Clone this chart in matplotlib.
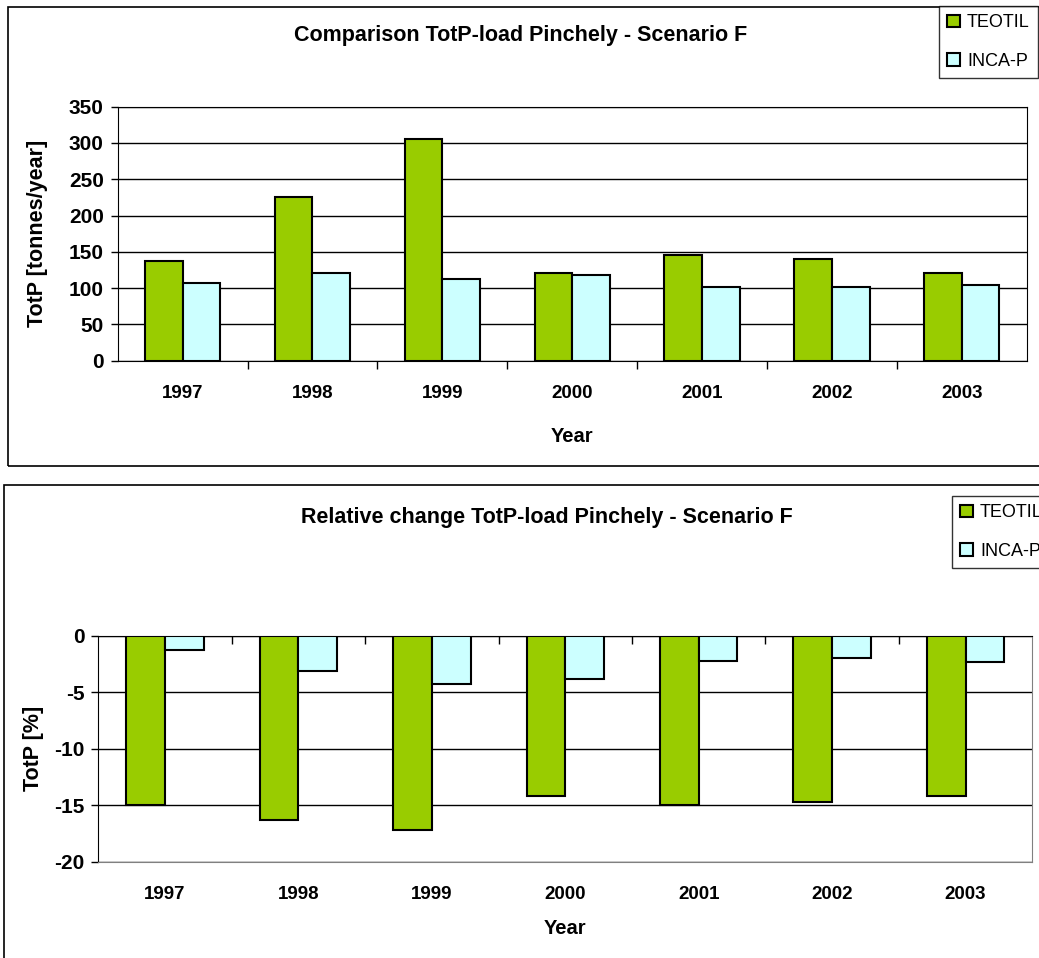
import numpy as np
import matplotlib
matplotlib.use('Agg')
import matplotlib.pyplot as plt
from matplotlib.patches import Rectangle
from matplotlib.ticker import MultipleLocator, FixedLocator

plt.rcParams['font.family'] = ['Liberation Sans', 'DejaVu Sans']
plt.rcParams['axes.unicode_minus'] = False

years = ['1997', '1998', '1999', '2000', '2001', '2002', '2003']
teotil_load = [137, 225, 305, 121, 146, 140, 121]
inca_load = [107, 121, 113, 118, 102, 102, 104]
teotil_change = [-15.0, -16.3, -17.2, -14.2, -15.0, -14.7, -14.2]
inca_change = [-1.3, -3.1, -4.3, -3.8, -2.2, -2.0, -2.3]

green = '#99CC00'
cyan = '#CCFFFF'
W, H = 1039, 958

fig = plt.figure(figsize=(W / 100, H / 100), dpi=100)

# outer chart frames
fig.patches.append(Rectangle((8 / W, 1 - 466 / H), 1.2, (466 - 7) / H,
                             transform=fig.transFigure, fill=False,
                             edgecolor='black', lw=1.2))
fig.patches.append(Rectangle((4 / W, -0.1), 1.2, 0.1 + (958 - 485) / H,
                             transform=fig.transFigure, fill=False,
                             edgecolor='black', lw=1.2))

x = np.arange(len(years))
bw = 0.29


def style_bars(ax, a, b):
    ax.bar(x - bw, a, bw, align='edge', color=green, edgecolor='black',
           lw=1.5, zorder=3, label='TEOTIL')
    ax.bar(x, b, bw, align='edge', color=cyan, edgecolor='black',
           lw=1.5, zorder=3, label='INCA-P')
    ax.set_xlim(-0.5, len(years) - 0.5)
    ax.set_xticks(x)
    ax.set_xticklabels(years, fontsize=13.5, fontweight='bold')
    ax.xaxis.set_minor_locator(FixedLocator(np.arange(0.5, len(years) - 1, 1)))
    ax.yaxis.grid(True, color='black', lw=1)
    ax.set_axisbelow(True)


# top chart
ax1 = fig.add_axes([117.7 / W, 1 - 360.7 / H, (1026.7 - 117.7) / W, (360.7 - 106.7) / H])
style_bars(ax1, teotil_load, inca_load)
ax1.set_ylim(0, 350)
ax1.yaxis.set_major_locator(MultipleLocator(50))
ax1.tick_params(axis='y', labelsize=15, length=5, width=1, pad=5)
for lab in ax1.get_yticklabels():
    lab.set_fontweight('bold')
ax1.tick_params(axis='x', which='major', length=0, pad=17.5)
ax1.tick_params(axis='x', which='minor', length=6, width=1, direction='out')
ax1.set_xlabel('Year', fontsize=14.5, fontweight='bold')
ax1.xaxis.set_label_coords(0.5, (360.7 - 437) / 254, transform=ax1.transAxes)
ax1.xaxis.label.set_va('center')
ax1.set_ylabel('TotP [tonnes/year]', fontsize=15.5, fontweight='bold')
ax1.yaxis.set_label_coords((38 - 117.7) / 909, 0.5)
ax1.yaxis.label.set_va('center')
for s in ax1.spines.values():
    s.set_color('black')
fig.text(521 / W, 1 - 36 / H, 'Comparison TotP-load Pinchely - Scenario F',
         ha='center', va='center', fontsize=15.5, fontweight='bold')

# bottom chart
ax2 = fig.add_axes([98.3 / W, 1 - 861.7 / H, (1032.3 - 98.3) / W, (861.7 - 635.7) / H])
style_bars(ax2, teotil_change, inca_change)
ax2.set_ylim(-20, 0)
ax2.yaxis.set_major_locator(MultipleLocator(5))
ax2.tick_params(axis='y', labelsize=15, length=5, width=1, pad=5)
for lab in ax2.get_yticklabels():
    lab.set_fontweight('bold')
ax2.tick_params(axis='x', which='major', length=0, pad=17.5)
ax2.tick_params(axis='x', which='minor', bottom=False, top=True,
                length=6, width=1, direction='in')
ax2.set_xlabel('Year', fontsize=14.5, fontweight='bold')
ax2.xaxis.set_label_coords(0.5, (861.7 - 928) / 226, transform=ax2.transAxes)
ax2.xaxis.label.set_va('center')
ax2.set_ylabel('TotP [%]', fontsize=15.5, fontweight='bold')
ax2.yaxis.set_label_coords((33 - 98.3) / 934, 0.5)
ax2.yaxis.label.set_va('center')
ax2.spines['left'].set_color('black')
ax2.spines['top'].set_color('black')
ax2.spines['right'].set_color('#808080')
ax2.spines['bottom'].set_color('#808080')
fig.text(547 / W, 1 - 517 / H, 'Relative change TotP-load Pinchely - Scenario F',
         ha='center', va='center', fontsize=15.5, fontweight='bold')

# legends, cut by the figure edge like in the original
for ax, left, bottom in [(ax1, 939, 78), (ax2, 952, 568)]:
    h, l = ax.get_legend_handles_labels()
    leg = fig.legend(h, l, loc='lower left',
                     bbox_to_anchor=(left / W, 1 - bottom / H),
                     fontsize=13, frameon=True, fancybox=False,
                     edgecolor='black', handlelength=0.7, handleheight=0.7,
                     handletextpad=0.4, labelspacing=1.2, borderpad=0.45,
                     borderaxespad=0)
    leg.get_frame().set_linewidth(1)

fig.savefig('out.png', dpi=100)
